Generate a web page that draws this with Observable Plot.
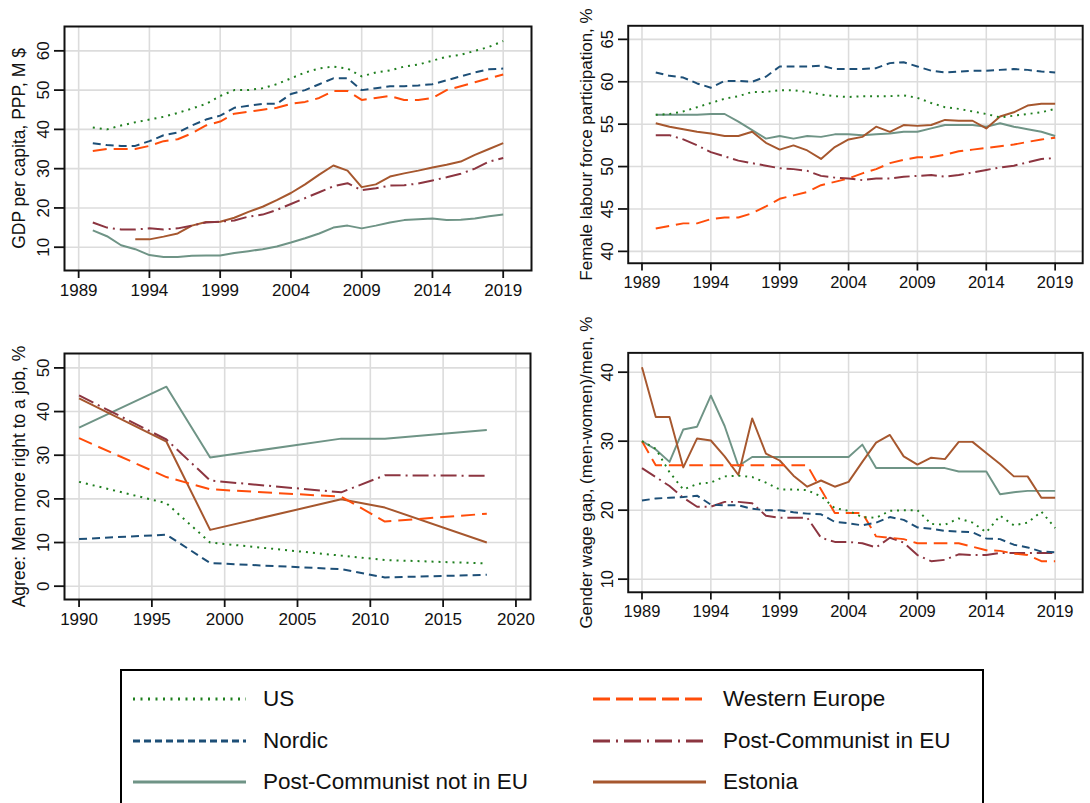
<!DOCTYPE html>
<html>
<head>
<meta charset="utf-8">
<script src="https://cdn.jsdelivr.net/npm/d3@7"></script>
<script src="https://cdn.jsdelivr.net/npm/@observablehq/plot@0.6"></script>
<style>
  html, body { margin: 0; padding: 0; background: #fff; }
  #wrap { position: relative; width: 1090px; height: 803px; overflow: hidden; background: #fff;
          font-family: "Liberation Sans", Arial, sans-serif; }
  .panel { position: absolute; }
  .panel svg { overflow: visible; }
  #legend { position: absolute; left: 120px; top: 669px; width: 864px; height: 160px;
            border: 2px solid #000; box-sizing: border-box; background: #fff; }
  .item { position: absolute; display: flex; align-items: center; height: 30px;
          font-size: 22.5px; color: #111; }
  .item svg { margin-right: 17px; }
</style>
</head>
<body>
<div id="wrap">
  <div id="p1" class="panel" style="left:0;top:0"></div>
  <div id="p2" class="panel" style="left:545px;top:0"></div>
  <div id="p3" class="panel" style="left:0;top:330px"></div>
  <div id="p4" class="panel" style="left:545px;top:330px"></div>
  <div id="legend"></div>
</div>
<script>
// ---------- data ----------
const years = [1989,1990,1991,1992,1993,1994,1995,1996,1997,1998,1999,2000,2001,2002,2003,2004,
               2005,2006,2007,2008,2009,2010,2011,2012,2013,2014,2015,2016,2017,2018,2019];
const waveYears = [1990, 1996, 1999, 2008, 2011, 2018];

const seriesNames = ["US", "Western Europe", "Nordic", "Post-Communist in EU", "Post-Communist not in EU", "Estonia"];

// GDP per capita, PPP (thousand $)
const gdpUS      = [null,40.5,40.0,41.0,41.8,42.5,43.2,44.2,45.3,46.5,48.5,50.0,50.0,50.5,51.5,53.0,54.5,55.5,56.0,55.5,53.5,54.5,55.0,56.0,56.5,57.5,58.5,59.0,60.0,61.0,62.5];
const gdpNordic  = [null,36.5,36.0,35.8,35.8,37.0,38.5,39.2,41.0,42.5,43.5,45.5,46.0,46.5,46.5,49.0,50.0,51.5,53.0,53.0,50.0,50.5,51.0,51.0,51.2,51.5,52.5,53.5,54.5,55.3,55.5];
const gdpWE      = [null,34.5,35.0,35.0,35.0,35.8,37.0,37.5,39.0,41.0,42.0,44.0,44.5,45.0,45.5,46.5,47.0,48.0,49.8,49.8,47.5,48.0,48.5,47.5,47.5,48.0,50.0,51.0,52.0,53.0,54.0];
const gdpPCEU    = [null,16.3,15.0,14.5,14.5,14.8,14.5,14.8,15.5,16.3,16.5,16.8,17.8,18.3,19.5,21.0,22.5,24.0,25.5,26.3,24.5,25.0,25.7,25.8,26.2,27.0,27.8,28.7,30.0,31.8,32.7];
const gdpPCnonEU = [null,14.3,12.8,10.5,9.5,8.0,7.5,7.5,7.8,7.9,7.9,8.5,9.0,9.5,10.2,11.2,12.3,13.5,15.0,15.5,14.8,15.5,16.3,16.9,17.1,17.3,16.9,17.0,17.3,17.9,18.3];
const gdpEstonia = [null,null,null,null,12.0,12.0,12.7,13.5,15.5,16.4,16.5,17.5,19.0,20.3,22.0,23.8,26.0,28.5,30.8,29.5,25.3,26.0,28.0,28.8,29.5,30.3,31.0,31.8,33.5,35.0,36.5];

// Female labour force participation, %
const flfpUS      = [null,56.1,56.2,56.5,57.0,57.5,58.0,58.3,58.8,58.8,59.0,59.0,58.8,58.5,58.3,58.2,58.3,58.3,58.3,58.4,58.1,57.5,57.0,56.8,56.5,56.2,55.8,56.0,56.2,56.4,56.8];
const flfpNordic  = [null,61.1,60.7,60.5,59.8,59.3,60.1,60.1,60.0,60.6,61.8,61.8,61.8,61.9,61.5,61.5,61.5,61.6,62.2,62.3,61.8,61.3,61.1,61.2,61.3,61.3,61.4,61.5,61.4,61.2,61.1];
const flfpWE      = [null,42.7,43.0,43.3,43.3,43.8,44.0,44.0,44.5,45.3,46.2,46.6,47.0,47.8,48.2,48.6,49.2,49.7,50.4,50.8,51.1,51.1,51.4,51.8,52.0,52.2,52.4,52.6,52.9,53.2,53.4];
const flfpPCEU    = [null,53.7,53.7,53.2,52.5,51.7,51.2,50.7,50.4,50.1,49.8,49.7,49.5,48.9,48.7,48.6,48.4,48.6,48.6,48.8,48.9,49.0,48.8,49.0,49.3,49.6,49.9,50.1,50.5,50.9,51.0];
const flfpPCnonEU = [null,56.1,56.1,56.1,56.1,56.2,56.2,55.3,54.3,53.3,53.6,53.3,53.6,53.5,53.8,53.8,53.7,53.8,53.9,54.1,54.1,54.5,54.9,54.9,54.9,54.7,55.1,54.7,54.4,54.1,53.6];
const flfpEstonia = [null,55.1,54.7,54.4,54.1,53.9,53.6,53.6,54.1,52.8,52.0,52.5,51.9,50.9,52.3,53.2,53.5,54.7,54.1,54.9,54.8,54.9,55.5,55.4,55.4,54.5,55.9,56.4,57.2,57.4,57.4];

// Agree: men more right to a job, %
const jobUS      = [23.9, 19.0, 10.0, 7.0, 6.0, 5.2];
const jobNordic  = [10.8, 11.8, 5.3, 3.9, 2.0, 2.6];
const jobWE      = [33.9, 25.0, 22.2, 20.5, 14.8, 16.6];
const jobPCEU    = [43.7, 33.6, 24.2, 21.5, 25.4, 25.3];
const jobPCnonEU = [36.3, 45.7, 29.5, 33.8, 33.8, 35.8];
const jobEstonia = [43.0, 33.1, 12.9, 19.9, 18.0, 10.0];

// Gender wage gap, (men-women)/men, %
const gapUS      = [30.0,28.9,25.5,23.0,23.8,24.0,24.9,25.0,24.8,24.0,23.0,23.0,22.9,22.0,20.3,19.9,19.0,18.9,19.9,20.0,20.0,18.0,17.9,18.8,18.2,16.8,19.2,17.8,18.2,19.8,17.4];
const gapNordic  = [21.4,21.7,21.8,21.9,22.1,20.8,20.7,20.7,20.2,20.0,20.0,19.7,19.5,19.4,18.3,18.1,17.8,18.2,19.0,18.6,17.5,17.3,17.0,16.9,16.8,15.9,15.8,15.0,14.6,14.0,13.9];
const gapWE      = [30.0,26.5,26.5,26.5,26.5,26.5,26.5,26.5,26.5,26.5,26.5,26.5,26.5,23.0,19.6,19.6,19.6,16.2,16.0,15.8,15.2,15.2,15.2,15.2,14.7,14.2,14.1,13.7,13.5,12.6,12.6];
const gapPCEU    = [26.1,24.8,23.5,21.8,20.5,20.5,21.2,21.2,21.0,19.2,18.9,18.9,18.9,16.0,15.4,15.4,15.2,14.6,16.0,15.3,13.5,12.6,12.8,13.6,13.5,13.5,13.8,13.8,13.8,13.8,13.8];
const gapPCnonEU = [30.0,28.8,27.0,31.7,32.1,36.6,32.2,26.4,27.7,27.7,27.7,27.7,27.7,27.7,27.7,27.7,29.5,26.1,26.1,26.1,26.1,26.1,26.1,25.6,25.6,25.6,22.3,22.6,22.8,22.8,22.8];
const gapEstonia = [40.7,33.5,33.5,26.2,30.4,30.1,27.8,25.1,33.3,28.2,27.2,25.0,23.4,24.3,23.4,24.1,27.0,29.8,30.9,27.8,26.6,27.6,27.4,29.9,29.9,28.3,26.7,24.9,24.9,21.8,21.8];

// ticks
const xTicksA = [1989, 1994, 1999, 2004, 2009, 2014, 2019];
const xTicksB = [1990, 1995, 2000, 2005, 2010, 2015, 2020];
const yTicksGdp = [10, 20, 30, 40, 50, 60];
const yTicksFlfp = [40, 45, 50, 55, 60, 65];
const yTicksJob = [0, 10, 20, 30, 40, 50];
const yTicksGap = [10, 20, 30, 40];

// ---------- styles ----------
const styles = {
  "US":                       {stroke: "#1f7f1f", dash: "2,5", w: 2},
  "Western Europe":           {stroke: "#ff4d0a", dash: "14,7", w: 2},
  "Nordic":                   {stroke: "#1d4f77", dash: "8,5", w: 2},
  "Post-Communist in EU":     {stroke: "#8c3540", dash: "16,5,2,5", w: 2},
  "Post-Communist not in EU": {stroke: "#6f9486", dash: null, w: 2},
  "Estonia":                  {stroke: "#a6572e", dash: null, w: 2}
};

function lineMark(xs, ys, name) {
  const s = styles[name];
  return Plot.line(xs, {x: (d) => d, y: ys, stroke: s.stroke, strokeWidth: s.w,
    strokeDasharray: s.dash || undefined, strokeLinejoin: "round", strokeLinecap: "butt"});
}

function panel(o) {
  return Plot.plot({
    width: o.width, height: o.height,
    marginLeft: o.ml, marginRight: o.mr, marginTop: o.mt, marginBottom: o.mb,
    style: {fontFamily: '"Liberation Sans", Arial, sans-serif', fontSize: "17px", background: "transparent", color: "#111"},
    x: {type: "linear", domain: o.xDomain},
    y: {type: "linear", domain: o.yDomain},
    marks: [
      Plot.gridX(o.xTicks, {stroke: "#dcdcdc", strokeOpacity: 1, strokeWidth: 1.6}),
      Plot.gridY(o.yTicks, {stroke: "#dcdcdc", strokeOpacity: 1, strokeWidth: 1.6}),
      ...o.lines,
      Plot.frame({stroke: "#111", strokeWidth: 2}),
      Plot.axisX(o.xTicks, {tickSize: 8, tickPadding: 5, strokeWidth: 1.8, tickFormat: (d) => String(d), label: null}),
      Plot.axisY(o.yTicks, {tickSize: 10, tickPadding: 6, strokeWidth: 1.8, tickRotate: -90, tickFormat: (d) => String(d), label: null}),
      Plot.text([o.yLabel], {frameAnchor: "left", textAnchor: "middle", lineAnchor: "middle", rotate: -90,
        dx: o.labelDx, text: (d) => d, fontSize: 17.5, fill: "#111"})
    ]
  });
}

const order = ["Post-Communist not in EU", "Estonia", "Post-Communist in EU", "Western Europe", "Nordic", "US"];

function linesFor(xs, map) {
  return order.map((n) => lineMark(xs, map[n], n));
}

document.getElementById("p1").appendChild(panel({
  width: 545, height: 320, ml: 64, mr: 14, mt: 26, mb: 50,
  xDomain: [1988, 2021], yDomain: [4.07, 66.2], xTicks: xTicksA, yTicks: yTicksGdp,
  yLabel: "GDP per capita, PPP, M $", labelDx: -45,
  lines: linesFor(years, {"US": gdpUS, "Nordic": gdpNordic, "Western Europe": gdpWE,
    "Post-Communist in EU": gdpPCEU, "Post-Communist not in EU": gdpPCnonEU, "Estonia": gdpEstonia})
}));

document.getElementById("p2").appendChild(panel({
  width: 560, height: 320, ml: 85, mr: 8, mt: 26, mb: 50,
  xDomain: [1988, 2021], yDomain: [38.6, 66.6], xTicks: xTicksA, yTicks: yTicksFlfp,
  yLabel: "Female labour force participation, %", labelDx: -43,
  lines: linesFor(years, {"US": flfpUS, "Nordic": flfpNordic, "Western Europe": flfpWE,
    "Post-Communist in EU": flfpPCEU, "Post-Communist not in EU": flfpPCnonEU, "Estonia": flfpEstonia})
}));

document.getElementById("p3").appendChild(panel({
  width: 545, height: 320, ml: 64, mr: 15, mt: 23, mb: 51,
  xDomain: [1989, 2021], yDomain: [-3.05, 53.3], xTicks: xTicksB, yTicks: yTicksJob,
  yLabel: "Agree: Men more right to a job, %", labelDx: -45,
  lines: linesFor(waveYears, {"US": jobUS, "Nordic": jobNordic, "Western Europe": jobWE,
    "Post-Communist in EU": jobPCEU, "Post-Communist not in EU": jobPCnonEU, "Estonia": jobEstonia})
}));

document.getElementById("p4").appendChild(panel({
  width: 560, height: 320, ml: 85, mr: 8, mt: 23, mb: 51,
  xDomain: [1988, 2021], yDomain: [8.1, 42.8], xTicks: xTicksA, yTicks: yTicksGap,
  yLabel: "Gender wage gap, (men-women)/men, %", labelDx: -43,
  lines: linesFor(years, {"US": gapUS, "Nordic": gapNordic, "Western Europe": gapWE,
    "Post-Communist in EU": gapPCEU, "Post-Communist not in EU": gapPCnonEU, "Estonia": gapEstonia})
}));

// ---------- legend ----------
const legendDashes = {
  "US": "2,5.5", "Western Europe": "17,6", "Nordic": "7,4",
  "Post-Communist in EU": "17,6,2,6", "Post-Communist not in EU": null, "Estonia": null
};
const legendPos = [
  ["US", 0, 0], ["Western Europe", 1, 0],
  ["Nordic", 0, 1], ["Post-Communist in EU", 1, 1],
  ["Post-Communist not in EU", 0, 2], ["Estonia", 1, 2]
];
const legend = document.getElementById("legend");
for (const [name, col, row] of legendPos) {
  const s = styles[name];
  const div = document.createElement("div");
  div.className = "item";
  div.style.left = (col === 0 ? 11 : 471) + "px";
  div.style.top = (13 + row * 41.5) + "px";
  const dash = legendDashes[name] ? `stroke-dasharray="${legendDashes[name]}"` : "";
  div.innerHTML = `<svg width="113" height="10"><line x1="0" x2="113" y1="5" y2="5" stroke="${s.stroke}" stroke-width="3" ${dash}/></svg><span>${name}</span>`;
  legend.appendChild(div);
}
</script>
</body>
</html>
